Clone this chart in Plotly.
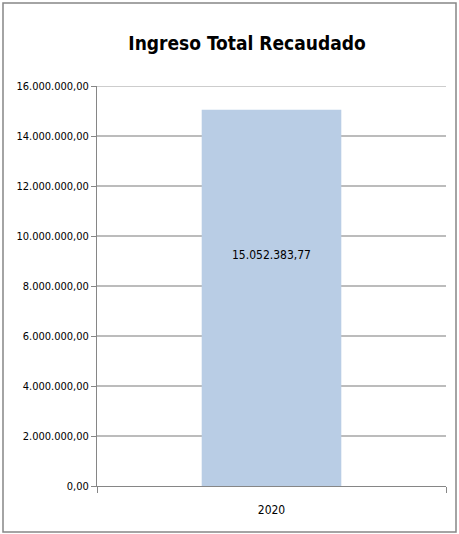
import plotly.graph_objects as go

categories = ["2020"]
values = [15052383.77]
tick_vals = [0, 2000000, 4000000, 6000000, 8000000, 10000000, 12000000, 14000000, 16000000]

W, H = 459, 534
L, R, T, B = 97, 13, 86, 48
FONT = "DejaVu Sans Condensed, Liberation Sans Narrow, sans-serif"


def fmt(v):
    s = f"{v:,.2f}"
    return s.replace(",", "X").replace(".", ",").replace("X", ".")


fig = go.Figure()
fig.add_trace(go.Bar(
    x=categories, y=values, width=0.4,
    marker=dict(color="#b9cde5", line=dict(width=0)),
    hoverinfo="skip",
))
for i, v in enumerate(values):
    fig.add_annotation(x=i, y=v * 0.614, xref="x", yref="y", text=fmt(v),
                       showarrow=False, font=dict(family=FONT, size=12, color="#000000"))

pw = W - L - R
ph = H - T - B
fig.update_layout(
    width=W, height=H,
    margin=dict(l=L, r=R, t=T, b=B, autoexpand=False),
    paper_bgcolor="white", plot_bgcolor="white",
    separators=",.",
    showlegend=False,
    title=dict(text="<b>Ingreso Total Recaudado</b>", x=247 / W, xanchor="center",
               y=1 - 43 / H, yanchor="middle",
               font=dict(family=FONT, size=19, color="#000000")),
    font=dict(family=FONT, size=11, color="#000000"),
    xaxis=dict(type="category", range=[-0.5, len(categories) - 0.5],
               showline=True, linecolor="#868686", linewidth=1,
               ticks="outside", tickson="boundaries", ticklen=6, tickcolor="#868686",
               ticklabelstandoff=13, automargin=False,
               tickfont=dict(family=FONT, size=12), showgrid=False),
    yaxis=dict(range=[0, tick_vals[-1]], tickvals=tick_vals, tickformat=",.2f",
               showline=True, linecolor="#868686", linewidth=1,
               ticks="outside", ticklen=5, tickcolor="#868686", automargin=False,
               showgrid=True, gridcolor="#bcbcbc", gridwidth=1.5,
               zeroline=False, tickfont=dict(family=FONT, size=11)),
    shapes=[dict(type="rect", xref="paper", yref="paper",
                 x0=(3 - L) / pw, x1=(456 - L) / pw,
                 y0=-(B - 2) / ph, y1=1 + (T - 3) / ph,
                 line=dict(color="#868686", width=1.5), fillcolor="rgba(0,0,0,0)",
                 layer="below"),
            dict(type="line", xref="paper", yref="y", x0=0, x1=1,
                 y0=tick_vals[-1], y1=tick_vals[-1],
                 line=dict(color="#bcbcbc", width=1.5), layer="below")],
)

fig.write_html("out.html", config={"displayModeBar": False},
               post_script="document.body.style.margin='0';document.body.style.padding='0';")
